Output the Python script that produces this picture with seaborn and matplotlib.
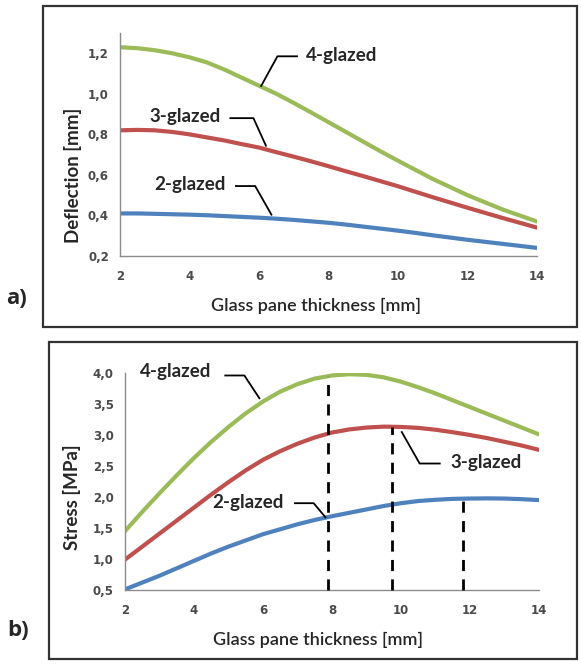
import numpy as np
import pandas as pd
import matplotlib
matplotlib.use("Agg")
import matplotlib.pyplot as plt
from matplotlib.patches import Rectangle
import seaborn as sns

# Data (half-millimetre steps)
thickness = [2, 2.5, 3, 3.5, 4, 4.5, 5, 5.5, 6, 6.5, 7, 7.5, 8,
             8.5, 9, 9.5, 10, 10.5, 11, 11.5, 12, 12.5, 13, 13.5, 14]
series_names = ["2-glazed", "3-glazed", "4-glazed"]

deflection_2 = [0.41, 0.41, 0.408, 0.406, 0.404, 0.401, 0.397, 0.393, 0.389, 0.384, 0.378, 0.371, 0.364,
                0.355, 0.345, 0.335, 0.325, 0.314, 0.302, 0.291, 0.28, 0.27, 0.26, 0.25, 0.24]
deflection_3 = [0.82, 0.822, 0.82, 0.812, 0.80, 0.785, 0.77, 0.752, 0.735, 0.712, 0.69, 0.667, 0.643,
                0.618, 0.594, 0.569, 0.544, 0.517, 0.49, 0.464, 0.438, 0.413, 0.388, 0.364, 0.34]
deflection_4 = [1.23, 1.225, 1.215, 1.20, 1.18, 1.155, 1.12, 1.08, 1.04, 1.0, 0.955, 0.908, 0.86,
                0.812, 0.764, 0.716, 0.67, 0.625, 0.58, 0.54, 0.50, 0.465, 0.43, 0.40, 0.37]

stress_2 = [0.51, 0.62, 0.73, 0.85, 0.97, 1.09, 1.20, 1.30, 1.40, 1.48, 1.56, 1.63, 1.69,
            1.745, 1.80, 1.855, 1.90, 1.935, 1.955, 1.97, 1.975, 1.978, 1.975, 1.965, 1.95]
stress_3 = [0.99, 1.20, 1.41, 1.62, 1.83, 2.04, 2.24, 2.43, 2.60, 2.74, 2.86, 2.96, 3.04,
            3.09, 3.12, 3.135, 3.13, 3.115, 3.085, 3.045, 3.0, 2.95, 2.89, 2.83, 2.76]
stress_4 = [1.45, 1.76, 2.06, 2.35, 2.63, 2.89, 3.13, 3.35, 3.54, 3.70, 3.82, 3.91, 3.96,
            3.98, 3.97, 3.93, 3.86, 3.77, 3.67, 3.56, 3.45, 3.34, 3.23, 3.12, 3.01]

# thickness at maximum stress (dashed markers): 2-, 3-, 4-glazed
peak_thickness = [11.8, 9.75, 7.87]

colors = {"2-glazed": "#4F81BD", "3-glazed": "#C0504D", "4-glazed": "#9BBB59"}


def long_form(values):
    rows = []
    for name, vals in zip(series_names, values):
        for x, y in zip(thickness, vals):
            rows.append({"thickness": x, "value": y, "series": name})
    return pd.DataFrame(rows)


deflection_df = long_form([deflection_2, deflection_3, deflection_4])
stress_df = long_form([stress_2, stress_3, stress_4])

sns.set_style("white")
plt.rcParams["font.family"] = ["Lato", "DejaVu Sans"]

W, H = 581, 665
fig = plt.figure(figsize=(W / 100, H / 100), dpi=100)


def px_axes(left, top, right, bottom):
    return fig.add_axes([left / W, 1 - bottom / H, (right - left) / W, (bottom - top) / H])


def style_axes(ax, ylabel, yticks, xlab_pos, ylab_pos):
    sns.despine(ax=ax)
    for side in ["left", "bottom"]:
        ax.spines[side].set_color("#8c8c8c")
        ax.spines[side].set_linewidth(1.0)
    ax.set_xlim(2, 14)
    ax.set_xticks(range(2, 15, 2))
    ax.set_yticks(yticks)
    ax.set_yticklabels([f"{t:.1f}".replace(".", ",") for t in yticks])
    ax.tick_params(axis="both", direction="out", length=3, width=1, color="#8c8c8c",
                   labelsize=8.5, labelcolor="#4a4a4a")
    ax.tick_params(axis="x", pad=7)
    ax.tick_params(axis="y", pad=5)
    for lab in ax.get_xticklabels() + ax.get_yticklabels():
        lab.set_fontweight("bold")
        lab.set_family("DejaVu Sans")
    ax.set_xlabel("Glass pane thickness [mm]", fontsize=13, color="#262626", fontweight="semibold")
    ax.set_ylabel(ylabel, fontsize=13.5, fontweight="bold", color="#262626")
    ax.xaxis.label.set_va("center")
    ax.yaxis.label.set_va("center")
    ax.xaxis.set_label_coords(*xlab_pos)
    ax.yaxis.set_label_coords(*ylab_pos)
    ax.get_legend().remove()


def leader(ax, text, tx, ty, path, ha):
    xs, ys = zip(*path)
    ax.plot(xs, ys, color="black", lw=1.3, solid_capstyle="butt", zorder=5)
    ax.text(tx, ty, text, fontsize=13.5, fontweight="bold", ha=ha, va="center", zorder=6)


# frames around each panel
fig.patches.append(Rectangle((43 / W, 1 - 327 / H), 534 / W, 321 / H, transform=fig.transFigure,
                             fill=False, edgecolor="#333333", linewidth=1.6))
fig.patches.append(Rectangle((49 / W, 1 - 659 / H), 528 / W, 317 / H, transform=fig.transFigure,
                             fill=False, edgecolor="#333333", linewidth=1.6))

# ---- a) deflection ----
ax1 = px_axes(120, 33, 537, 256)
sns.lineplot(data=deflection_df, x="thickness", y="value", hue="series", palette=colors,
             linewidth=3, ax=ax1)
ax1.set_ylim(0.2, 1.3)
style_axes(ax1, "Deflection [mm]", [0.2, 0.4, 0.6, 0.8, 1.0, 1.2],
           ((316 - 120) / 417, (256 - 306) / 223), ((73 - 120) / 417, (256 - 175) / 223))
leader(ax1, "4-glazed", 7.35, 1.19, [(7.12, 1.185), (6.53, 1.185), (6.05, 1.035)], "left")
leader(ax1, "3-glazed", 4.9, 0.888, [(5.15, 0.88), (5.84, 0.88), (6.21, 0.74)], "right")
leader(ax1, "2-glazed", 5.05, 0.553, [(5.31, 0.545), (5.89, 0.545), (6.37, 0.40)], "right")

# ---- b) stress ----
ax2 = px_axes(125, 373, 539, 590)
sns.lineplot(data=stress_df, x="thickness", y="value", hue="series", palette=colors,
             linewidth=3, ax=ax2)
ax2.set_ylim(0.5, 4.0)
style_axes(ax2, "Stress [MPa]", [0.5, 1.0, 1.5, 2.0, 2.5, 3.0, 3.5, 4.0],
           ((318 - 125) / 414, (590 - 640) / 217), ((72 - 125) / 414, (590 - 497) / 217))
for xp, vals in zip(peak_thickness, [stress_2, stress_3, stress_4]):
    ytop = np.interp(xp, thickness, vals)
    ax2.plot([xp, xp], [0.5, ytop], color="black", lw=2, linestyle=(0, (4, 3)), zorder=4,
             clip_on=False)
leader(ax2, "4-glazed", 4.5, 4.02, [(4.88, 3.96), (5.46, 3.96), (5.91, 3.58)], "right")
leader(ax2, "3-glazed", 11.44, 2.55, [(11.15, 2.54), (10.54, 2.54), (10.01, 3.06)], "left")
leader(ax2, "2-glazed", 6.6, 1.91, [(6.90, 1.90), (7.47, 1.90), (7.83, 1.66)], "right")

fig.text(6 / W, 1 - 299 / H, "a)", fontsize=16, fontweight="bold", va="center", ha="left",
         family="Open Sans")
fig.text(7 / W, 1 - 630 / H, "b)", fontsize=16, fontweight="bold", va="center", ha="left",
         family="Open Sans")

fig.savefig("out.png", dpi=100)
